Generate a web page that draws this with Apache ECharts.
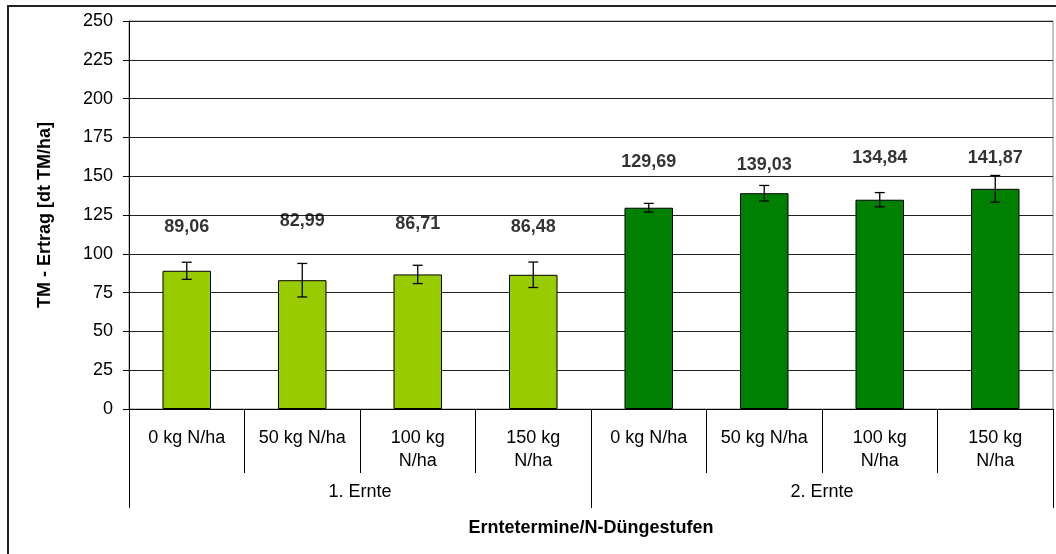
<!DOCTYPE html>
<html>
<head>
<meta charset="utf-8">
<script src="https://cdn.jsdelivr.net/npm/echarts@6/dist/echarts.min.js"></script>
<style>
  html, body { margin: 0; padding: 0; background: #fff; }
  #main { width: 1056px; height: 554px; }
</style>
</head>
<body>
<div id="main"></div>
<script>
// Daten
const categories = ['0 kg N/ha', '50 kg N/ha', '100 kg\nN/ha', '150 kg\nN/ha',
                    '0 kg N/ha', '50 kg N/ha', '100 kg\nN/ha', '150 kg\nN/ha'];
const groups = ['1. Ernte', '2. Ernte'];
const yields = [89.06, 82.99, 86.71, 86.48, 129.69, 139.03, 134.84, 141.87];
const errors = [5.5, 10.8, 5.9, 8.2, 2.8, 5.0, 4.6, 8.6];   // +/- Fehlerbalken
const labelAt = [117, 121, 119, 117, 159, 157, 162, 162];   // Höhe der Wertbeschriftung
const yTicks = [0, 25, 50, 75, 100, 125, 150, 175, 200, 225, 250];

const colLight = '#99CC00';
const colDark = '#008000';
const font = 'Arial, "Liberation Sans", sans-serif';

let myChart = echarts.init(document.getElementById('main'));

let option = {
    animation: false,
    backgroundColor: '#fff',
    graphic: [{
        type: 'rect',
        shape: { x: 8, y: 6, width: 1200, height: 700 },
        style: { fill: 'none', stroke: '#222', lineWidth: 2 },
        silent: true
    }],
    grid: {
        left: 129,
        right: 3,
        top: 21,
        bottom: 145,
        show: true,
        borderColor: '#888',
        borderWidth: 1
    },
    xAxis: [{
        type: 'category',
        data: categories,
        axisLine: { lineStyle: { color: '#000', width: 1 } },
        axisTick: { show: true, length: 64, interval: 0, lineStyle: { color: '#000' } },
        axisLabel: {
            interval: 0,
            margin: 18,
            color: '#000',
            fontFamily: font,
            fontSize: 18,
            lineHeight: 23
        },
        splitLine: { show: false }
    }, {
        type: 'category',
        data: groups,
        position: 'bottom',
        axisLine: { show: false },
        axisTick: { show: true, length: 99, interval: 0, lineStyle: { color: '#000' } },
        axisLabel: {
            interval: 0,
            margin: 74,
            color: '#000',
            fontFamily: font,
            fontSize: 18
        },
        name: 'Erntetermine/N-Düngestufen',
        nameLocation: 'middle',
        nameGap: 110,
        nameTextStyle: {
            color: '#000',
            fontFamily: font,
            fontWeight: 'bold',
            fontSize: 18
        }
    }],
    yAxis: [{
        type: 'value',
        min: yTicks[0],
        max: yTicks[yTicks.length - 1],
        interval: 25,
        axisLine: { show: true, lineStyle: { color: '#000' } },
        axisTick: { show: true, length: 6, lineStyle: { color: '#000' } },
        axisLabel: {
            margin: 16,
            color: '#000',
            fontFamily: font,
            fontSize: 18
        },
        splitLine: { show: true, lineStyle: { color: '#222', width: 1 } },
        name: 'TM - Ertrag [dt TM/ha]',
        nameLocation: 'middle',
        nameGap: 75,
        nameRotate: 90,
        nameTextStyle: {
            color: '#000',
            fontFamily: font,
            fontWeight: 'bold',
            fontSize: 18
        }
    }],
    series: [{
        name: 'Ertrag',
        type: 'bar',
        xAxisIndex: 0,
        barWidth: '42%',
        data: yields.map((v, i) => ({
            value: v,
            itemStyle: { color: i < 4 ? colLight : colDark }
        })),
        itemStyle: { borderColor: '#000', borderWidth: 1 },
        z: 3
    }, {
        // Fehlerbalken
        name: 'Fehler',
        type: 'custom',
        xAxisIndex: 0,
        data: yields.map((v, i) => [i, v - errors[i], v + errors[i]]),
        renderItem: function (params, api) {
            let x = api.value(0);
            let lo = api.coord([x, api.value(1)]);
            let hi = api.coord([x, api.value(2)]);
            let cap = 5;
            let st = { stroke: '#000', lineWidth: 1.3 };
            return {
                type: 'group',
                children: [
                    { type: 'line', shape: { x1: lo[0], y1: lo[1], x2: hi[0], y2: hi[1] }, style: st },
                    { type: 'line', shape: { x1: lo[0] - cap, y1: lo[1], x2: lo[0] + cap, y2: lo[1] }, style: st },
                    { type: 'line', shape: { x1: hi[0] - cap, y1: hi[1], x2: hi[0] + cap, y2: hi[1] }, style: st }
                ]
            };
        },
        z: 5
    }, {
        // Wertbeschriftungen
        name: 'Werte',
        type: 'scatter',
        xAxisIndex: 0,
        symbolSize: 0,
        data: labelAt.map((y, i) => [i, y]),
        label: {
            show: true,
            position: 'inside',
            formatter: p => yields[p.dataIndex].toFixed(2).replace('.', ','),
            color: '#000',
            textBorderWidth: 0,
            fontFamily: font,
            fontWeight: 'bold',
            fontSize: 18
        },
        z: 6
    }]
};
myChart.setOption(option);
</script>
</body>
</html>
